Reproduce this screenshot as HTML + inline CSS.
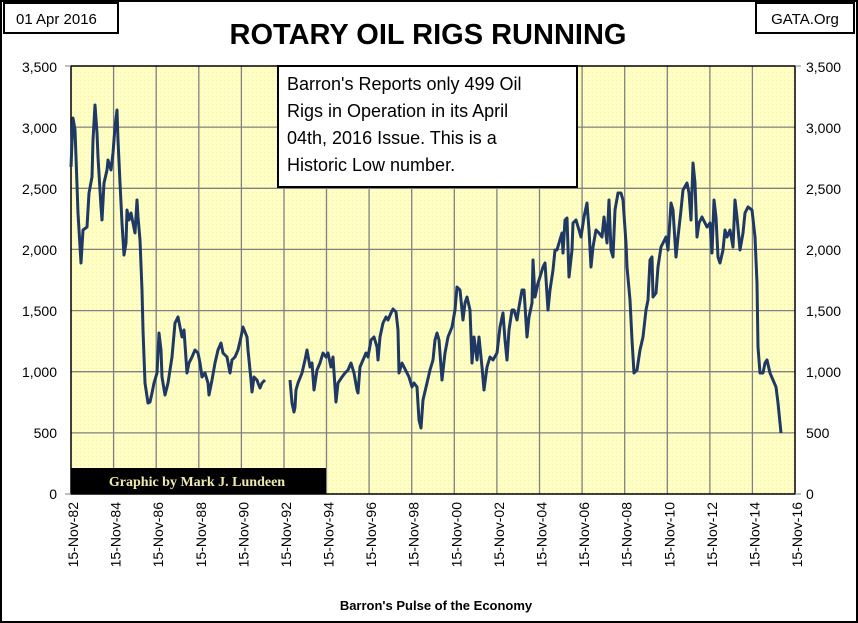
<!DOCTYPE html>
<html><head><style>
body{margin:0;background:#fff}
svg{display:block;font-family:"Liberation Sans",sans-serif}
</style></head><body>
<svg width="858" height="623" viewBox="0 0 858 623">
<rect x="1" y="1" width="856" height="621" fill="#fff" stroke="#000" stroke-width="2"/>
<defs><pattern id="dots" width="4" height="4" patternUnits="userSpaceOnUse"><rect width="4" height="4" fill="#ffffc4"/><rect width="1" height="1" fill="#f0eeb0"/></pattern></defs>
<rect x="71" y="66" width="724" height="428" fill="url(#dots)"/>
<g stroke="#808080" stroke-width="1.3">
<line x1="71" y1="127.1" x2="795" y2="127.1"/><line x1="71" y1="188.3" x2="795" y2="188.3"/><line x1="71" y1="249.4" x2="795" y2="249.4"/><line x1="71" y1="310.6" x2="795" y2="310.6"/><line x1="71" y1="371.7" x2="795" y2="371.7"/><line x1="71" y1="432.9" x2="795" y2="432.9"/>
<line x1="113.6" y1="66" x2="113.6" y2="494"/><line x1="156.2" y1="66" x2="156.2" y2="494"/><line x1="198.8" y1="66" x2="198.8" y2="494"/><line x1="241.4" y1="66" x2="241.4" y2="494"/><line x1="284" y1="66" x2="284" y2="494"/><line x1="326.5" y1="66" x2="326.5" y2="494"/><line x1="369.1" y1="66" x2="369.1" y2="494"/><line x1="411.7" y1="66" x2="411.7" y2="494"/><line x1="454.3" y1="66" x2="454.3" y2="494"/><line x1="496.9" y1="66" x2="496.9" y2="494"/><line x1="539.5" y1="66" x2="539.5" y2="494"/><line x1="582.1" y1="66" x2="582.1" y2="494"/><line x1="624.7" y1="66" x2="624.7" y2="494"/><line x1="667.3" y1="66" x2="667.3" y2="494"/><line x1="709.9" y1="66" x2="709.9" y2="494"/><line x1="752.4" y1="66" x2="752.4" y2="494"/>
</g>
<rect x="71" y="66" width="724" height="428" fill="none" stroke="#000" stroke-width="1.5"/>
<g stroke="#808080"><line x1="65" y1="66" x2="71" y2="66"/><line x1="65" y1="494" x2="71" y2="494"/><line x1="795" y1="66" x2="801" y2="66"/><line x1="795" y1="494" x2="801" y2="494"/></g>
<rect x="71" y="468" width="255" height="26" fill="#000"/>
<text x="197" y="486" text-anchor="middle" font-family="Liberation Serif,serif" font-weight="bold" font-size="14" fill="#eeeab0">Graphic by Mark J. Lundeen</text>
<g fill="none" stroke="#1f3864" stroke-width="3" stroke-linejoin="round">
<polyline points="71,167 73,118 75,130 76,157 78,213 81,263 83,230 87,227 89,193 92,177 93,140 95,105 97,133 98,157 101,207 102,220 104,183 107,170 108,160 111,170 113,153 115,127 117,110 118,140 120,183 122,223 124,255 126,243 127,210 129,220 131,213 133,223 135,233 137,200 138,217 140,240 142,290 143,330 145,383 148,403 150,402 152,393 154,383 157,373 159,333 161,350 162,377 165,395 168,383 172,357 175,323 178,317 180,327 182,337 184,330 187,373 189,363 192,357 195,350 198,353 200,363 202,377 205,373 208,383 209,395 212,380 215,363 218,350 221,343 223,353 227,357 230,373 232,360 235,357 238,350 241,337 243,327 247,337 248,350 251,380 252,392 254,377 257,380 258,383 260,388 262,383 265,380"/>
<polyline points="290,380 292,403 294,412 295,407 296,390 298,383 302,373 305,360 307,350 310,367 312,363 314,390 317,370 320,363 323,353 326,357 328,353 331,367 333,357 336,402 338,383 342,377 345,373 348,370 351,363 354,373 357,390 358,393 360,367 363,360 366,353 368,357 371,340 374,337 377,347 378,360 380,337 383,323 386,317 388,320 391,313 393,309 396,312 398,330 399,373 402,363 404,367 407,373 409,377 412,387 414,383 417,387 419,420 421,428 423,400 427,383 430,370 433,360 435,340 437,333 439,340 442,380 445,353 448,337 452,327 455,310 457,287 460,290 463,320 465,303 467,297 470,310 472,363 474,337 477,360 479,337 482,367 484,390 487,367 490,357 493,360 497,353 500,327 503,313 505,340 507,360 509,330 512,310 514,310 517,320 519,307 522,290 524,290 527,337 529,317 532,303 533,260 535,297 538,283 540,277 543,267 545,263 548,310 550,290 553,270 555,250 557,250 559,243 562,233 563,253 565,220 567,218 569,277 572,250 573,223 576,220 579,230 581,237 584,217 587,203 589,230 591,267 593,247 596,230 599,233 602,237 604,217 607,243 609,200 611,250 613,257 615,210 618,193 621,193 623,200 626,243 627,267 630,300 632,340 634,373 637,370 640,350 643,337 646,310 648,300 650,260 652,257 653,297 656,293 658,267 661,247 663,243 666,237 668,250 671,203 673,210 676,257 678,237 681,210 683,190 687,183 689,193 691,220 693,163 695,183 697,237 699,223 702,217 705,223 707,227 710,223 712,253 714,200 716,217 718,257 720,263 723,250 725,230 727,237 730,230 733,247 735,200 737,217 740,250 743,233 745,213 748,207 752,210 755,237 757,283 758,347 760,373 763,373 765,363 767,360 770,373 773,380 776,387 778,403 781,433"/>
</g>
<rect x="278" y="66" width="299" height="121" fill="#fff" stroke="#000" stroke-width="2"/>
<g font-size="18" fill="#000">
<text x="287" y="90">Barron's Reports only 499 Oil</text>
<text x="287" y="117">Rigs in Operation in its April</text>
<text x="287" y="144">04th, 2016 Issue.  This is a</text>
<text x="287" y="171">Historic Low number.</text>
</g>
<rect x="4" y="3" width="114" height="30" fill="#fff" stroke="#000" stroke-width="2"/>
<text x="16" y="24" font-size="15">01 Apr 2016</text>
<rect x="756" y="3" width="98" height="30" fill="#fff" stroke="#000" stroke-width="2"/>
<text x="805" y="24" font-size="15" text-anchor="middle">GATA.Org</text>
<text x="428" y="44" font-size="29" font-weight="bold" text-anchor="middle">ROTARY OIL RIGS  RUNNING</text>
<g font-size="14" text-anchor="end">
<text x="57" y="72">3,500</text><text x="57" y="133">3,000</text><text x="57" y="194">2,500</text><text x="57" y="255">2,000</text><text x="57" y="316">1,500</text><text x="57" y="377">1,000</text><text x="57" y="438">500</text><text x="57" y="499">0</text>
</g>
<g font-size="14">
<text x="806" y="72">3,500</text><text x="806" y="133">3,000</text><text x="806" y="194">2,500</text><text x="806" y="255">2,000</text><text x="806" y="316">1,500</text><text x="806" y="377">1,000</text><text x="806" y="438">500</text><text x="806" y="499">0</text>
</g>
<g font-size="14" text-anchor="end">
<text transform="translate(78,502) rotate(-90)">15-Nov-82</text>
<text transform="translate(120.6,502) rotate(-90)">15-Nov-84</text>
<text transform="translate(163.2,502) rotate(-90)">15-Nov-86</text>
<text transform="translate(205.8,502) rotate(-90)">15-Nov-88</text>
<text transform="translate(248.4,502) rotate(-90)">15-Nov-90</text>
<text transform="translate(291,502) rotate(-90)">15-Nov-92</text>
<text transform="translate(333.5,502) rotate(-90)">15-Nov-94</text>
<text transform="translate(376.1,502) rotate(-90)">15-Nov-96</text>
<text transform="translate(418.7,502) rotate(-90)">15-Nov-98</text>
<text transform="translate(461.3,502) rotate(-90)">15-Nov-00</text>
<text transform="translate(503.9,502) rotate(-90)">15-Nov-02</text>
<text transform="translate(546.5,502) rotate(-90)">15-Nov-04</text>
<text transform="translate(589.1,502) rotate(-90)">15-Nov-06</text>
<text transform="translate(631.7,502) rotate(-90)">15-Nov-08</text>
<text transform="translate(674.3,502) rotate(-90)">15-Nov-10</text>
<text transform="translate(716.9,502) rotate(-90)">15-Nov-12</text>
<text transform="translate(759.4,502) rotate(-90)">15-Nov-14</text>
<text transform="translate(802,502) rotate(-90)">15-Nov-16</text>
</g>
<text x="436" y="610" font-size="13" font-weight="bold" text-anchor="middle">Barron's Pulse of the Economy</text>
</svg>
</body></html>
